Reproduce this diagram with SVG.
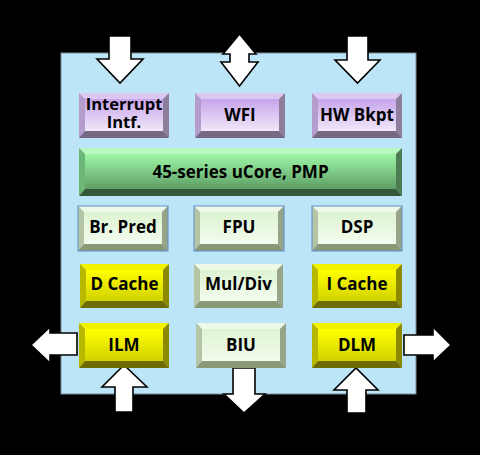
<svg xmlns="http://www.w3.org/2000/svg" width="480" height="455" viewBox="0 0 480 455">
<defs>
<linearGradient id="gP" x1="0" y1="0" x2="0" y2="1"><stop offset="0" stop-color="#C6A4EA"/><stop offset="1" stop-color="#F0E8FA"/></linearGradient>
<linearGradient id="gG" x1="0" y1="0" x2="0" y2="1"><stop offset="0" stop-color="#9EF7A6"/><stop offset="1" stop-color="#5E9E66"/></linearGradient>
<linearGradient id="gL" x1="0" y1="0" x2="0" y2="1"><stop offset="0" stop-color="#DDF3D2"/><stop offset="1" stop-color="#F3FCEE"/></linearGradient>
<linearGradient id="gY" x1="0" y1="0" x2="0" y2="1"><stop offset="0" stop-color="#FFFF00"/><stop offset="1" stop-color="#D2D200"/></linearGradient>
<style>
.t{font-family:"Open Sans","Liberation Sans",sans-serif;font-weight:bold;font-size:17px;fill:#000;text-anchor:middle}
.t2{font-size:16.5px}
.ar{fill:#fff;stroke:#000;stroke-width:1.6;stroke-linejoin:miter}
.p .tp{fill:#DCC6F2}.p .lf{fill:#B49CCC}.p .rt{fill:#8E7E9C}.p .bt{fill:#766882}.p .fc{fill:url(#gP)}
.g .tp{fill:#B8F8BE}.g .lf{fill:#6CB676}.g .rt{fill:#4C7C52}.g .bt{fill:#36583A}.g .fc{fill:url(#gG)}
.l .tp{fill:#EEF8E6}.l .lf{fill:#B4C4A4}.l .rt{fill:#98A488}.l .bt{fill:#8A9878}.l .fc{fill:url(#gL)}
.y .tp{fill:#F2F200}.y .lf{fill:#B8B800}.y .rt{fill:#8C8A00}.y .bt{fill:#6E6C00}.y .fc{fill:url(#gY)}
.ol{fill:none;stroke:#5E8CC8;stroke-width:1}
</style>
</defs>
<rect x="0" y="0" width="480" height="455" fill="#000"/>
<rect id="chip" x="61" y="53" width="355" height="341" fill="#BDE5F8" stroke="#7A8A96" stroke-width="1"/>

<g id="connectors">
<path class="ar" d="M109,36 H131 V59 H143 L120,83 L97,59 H109 Z"/>
<path class="ar" d="M239.5,34 L256,54 H249 V62 H258 L239.5,86 L221,62 H230 V54 H223 Z"/>
<path class="ar" d="M347,36 H368 V60 H380 L357.5,83 L335,60 H347 Z"/>
<path class="ar" d="M77,333 V355 H50 V363 L31,345 L50,327 V333 Z"/>
<path class="ar" d="M115,412 V387 H102 L124,365 L147,387 H133 V412 Z"/>
<path class="ar" d="M233,368 H255 V394 H265 L244,413 L224,394 H233 Z"/>
<path class="ar" d="M347,413 V390 H334 L356,368 L378,390 H366 V413 Z"/>
<path class="ar" d="M404,335 H433 V327 L451,345 L433,362 V355 H404 Z"/>
</g>

<g id="n-interrupt" class="p">
<polygon class="tp" points="79,93 169,93 163,99 85,99"/>
<polygon class="lf" points="79,93 85,99 85,131 79,138"/>
<polygon class="rt" points="169,93 163,99 163,131 169,138"/>
<polygon class="bt" points="79,138 169,138 163,131 85,131"/>
<rect class="fc" x="85" y="99" width="78" height="32"/>
<text class="t t2" x="124" y="110"><tspan x="124" y="110">Interrupt</tspan><tspan x="124" y="128">Intf.</tspan></text>
</g>
<g id="n-wfi" class="p">
<polygon class="tp" points="195,93 285,93 279,99 201,99"/>
<polygon class="lf" points="195,93 201,99 201,131 195,138"/>
<polygon class="rt" points="285,93 279,99 279,131 285,138"/>
<polygon class="bt" points="195,138 285,138 279,131 201,131"/>
<rect class="fc" x="201" y="99" width="78" height="32"/>
<text class="t" x="240" y="121">WFI</text>
</g>
<g id="n-hwbkpt" class="p">
<polygon class="tp" points="312,93 402,93 396,99 318,99"/>
<polygon class="lf" points="312,93 318,99 318,131 312,138"/>
<polygon class="rt" points="402,93 396,99 396,131 402,138"/>
<polygon class="bt" points="312,138 402,138 396,131 318,131"/>
<rect class="fc" x="318" y="99" width="78" height="32"/>
<text class="t" x="357" y="121">HW Bkpt</text>
</g>

<g id="n-core" class="g">
<polygon class="tp" points="79,148 402,148 396,154 85,154"/>
<polygon class="lf" points="79,148 85,154 85,189 79,196"/>
<polygon class="rt" points="402,148 396,154 396,189 402,196"/>
<polygon class="bt" points="79,196 402,196 396,189 85,189"/>
<rect class="fc" x="85" y="154" width="311" height="35"/>
<text class="t" x="240.5" y="178">45-series uCore, PMP</text>
</g>

<g id="n-brpred" class="l">
<polygon class="tp" points="78,206 168,206 162,212 84,212"/>
<polygon class="lf" points="78,206 84,212 84,244 78,251"/>
<polygon class="rt" points="168,206 162,212 162,244 168,251"/>
<polygon class="bt" points="78,251 168,251 162,244 84,244"/>
<rect class="fc" x="84" y="212" width="78" height="32"/>
<rect class="ol" x="78" y="206" width="90" height="45"/>
<text class="t" x="123" y="233">Br. Pred</text>
</g>
<g id="n-fpu" class="l">
<polygon class="tp" points="194,206 284,206 278,212 200,212"/>
<polygon class="lf" points="194,206 200,212 200,244 194,251"/>
<polygon class="rt" points="284,206 278,212 278,244 284,251"/>
<polygon class="bt" points="194,251 284,251 278,244 200,244"/>
<rect class="fc" x="200" y="212" width="78" height="32"/>
<rect class="ol" x="194" y="206" width="90" height="45"/>
<text class="t" x="239" y="233">FPU</text>
</g>
<g id="n-dsp" class="l">
<polygon class="tp" points="312,206 402,206 396,212 318,212"/>
<polygon class="lf" points="312,206 318,212 318,244 312,251"/>
<polygon class="rt" points="402,206 396,212 396,244 402,251"/>
<polygon class="bt" points="312,251 402,251 396,244 318,244"/>
<rect class="fc" x="318" y="212" width="78" height="32"/>
<rect class="ol" x="312" y="206" width="90" height="45"/>
<text class="t" x="357" y="233">DSP</text>
</g>

<g id="n-dcache" class="y">
<polygon class="tp" points="80,264 169,264 163,270 86,270"/>
<polygon class="lf" points="80,264 86,270 86,301 80,308"/>
<polygon class="rt" points="169,264 163,270 163,301 169,308"/>
<polygon class="bt" points="80,308 169,308 163,301 86,301"/>
<rect class="fc" x="86" y="270" width="77" height="31"/>
<text class="t" x="124.5" y="290">D Cache</text>
</g>
<g id="n-muldiv" class="l">
<polygon class="tp" points="194,264 283,264 277,270 200,270"/>
<polygon class="lf" points="194,264 200,270 200,301 194,308"/>
<polygon class="rt" points="283,264 277,270 277,301 283,308"/>
<polygon class="bt" points="194,308 283,308 277,301 200,301"/>
<rect class="fc" x="200" y="270" width="77" height="31"/>
<text class="t" x="238.5" y="290">Mul/Div</text>
</g>
<g id="n-icache" class="y">
<polygon class="tp" points="312,264 402,264 396,270 318,270"/>
<polygon class="lf" points="312,264 318,270 318,301 312,308"/>
<polygon class="rt" points="402,264 396,270 396,301 402,308"/>
<polygon class="bt" points="312,308 402,308 396,301 318,301"/>
<rect class="fc" x="318" y="270" width="78" height="31"/>
<text class="t" x="357" y="290">I Cache</text>
</g>

<g id="n-ilm" class="y">
<polygon class="tp" points="79,323 169,323 163,329 85,329"/>
<polygon class="lf" points="79,323 85,329 85,361 79,368"/>
<polygon class="rt" points="169,323 163,329 163,361 169,368"/>
<polygon class="bt" points="79,368 169,368 163,361 85,361"/>
<rect class="fc" x="85" y="329" width="78" height="32"/>
<text class="t" x="124" y="351">ILM</text>
</g>
<g id="n-biu" class="l">
<polygon class="tp" points="196,323 286,323 280,329 202,329"/>
<polygon class="lf" points="196,323 202,329 202,361 196,368"/>
<polygon class="rt" points="286,323 280,329 280,361 286,368"/>
<polygon class="bt" points="196,368 286,368 280,361 202,361"/>
<rect class="fc" x="202" y="329" width="78" height="32"/>
<text class="t" x="241" y="351">BIU</text>
</g>
<g id="n-dlm" class="y">
<polygon class="tp" points="312,323 402,323 396,329 318,329"/>
<polygon class="lf" points="312,323 318,329 318,361 312,368"/>
<polygon class="rt" points="402,323 396,329 396,361 402,368"/>
<polygon class="bt" points="312,368 402,368 396,361 318,361"/>
<rect class="fc" x="318" y="329" width="78" height="32"/>
<text class="t" x="357" y="351">DLM</text>
</g>
</svg>
